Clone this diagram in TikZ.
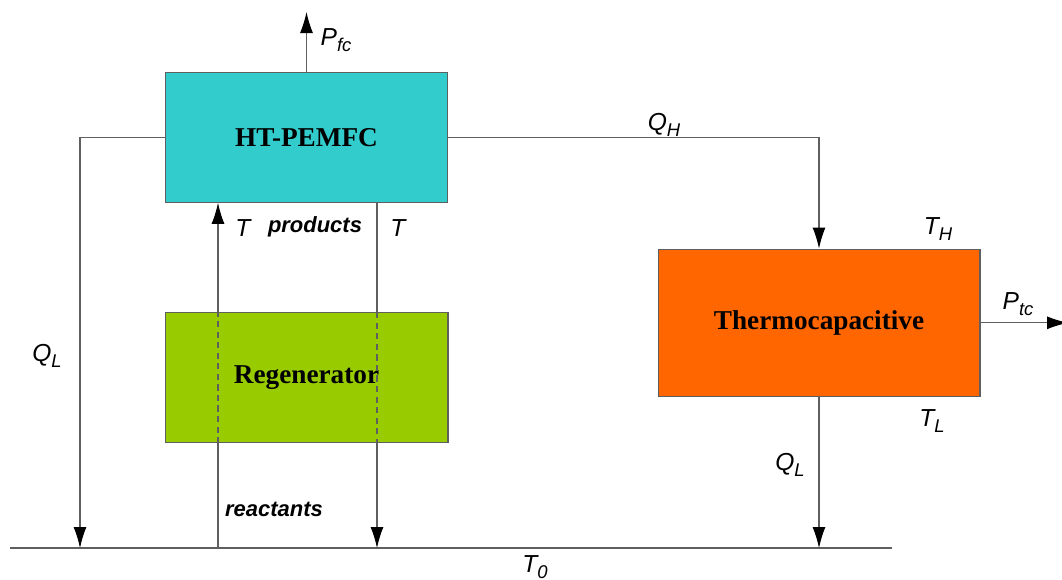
\documentclass[tikz,border=0pt]{standalone}
\usepackage{fontspec}
\setmainfont{Liberation Serif}
\setsansfont{Liberation Sans}
\usepackage{tikz}
\usetikzlibrary{arrows.meta,calc,positioning}
\definecolor{fccyan}{RGB}{51,204,204}
\definecolor{rggreen}{RGB}{153,204,0}
\definecolor{tcorange}{RGB}{255,102,0}
\definecolor{linegray}{RGB}{95,95,95}
\newcommand{\varlab}[2]{#1\raisebox{-0.45ex}{\fontsize{10.5}{11}\selectfont#2}}
\tikzset{>={Latex[length=4.2mm,width=2.6mm,color=black]}}
\tikzset{flow/.style={draw=linegray, line width=0.6pt}}
\tikzset{unit/.style={draw=linegray, line width=0.6pt, inner sep=0pt,
    font=\bfseries\fontsize{15.5}{18}\selectfont}}
\tikzset{lab/.style={inner sep=0pt, font=\sffamily\itshape\fontsize{14}{16}\selectfont}}
\tikzset{tag/.style={inner sep=0pt, font=\sffamily\bfseries\itshape\fontsize{12.5}{14}\selectfont}}
\begin{document}
\begin{tikzpicture}[x=0.02cm, y=-0.02cm]
  \useasboundingbox (0,0) rectangle (1062,579);
  % the three units
  \node[unit, fill=fccyan, minimum width=5.65cm, minimum height=2.6cm] (fc) at (306.5,137.3) {HT-PEMFC};
  \node[unit, fill=rggreen, minimum width=5.66cm, minimum height=2.6cm] (rg) at (306.5,377.7) {Regenerator};
  \node[unit, fill=tcorange, minimum width=6.44cm, minimum height=2.95cm] (tc) at (819,322.8) {Thermocapacitive};
  % environment at T0
  \coordinate (amb west) at (10,548);
  \coordinate (amb east) at (892,548);
  \draw[flow] (amb west) -- (amb east);
  \coordinate (pfc) at (306.5,12);
  \coordinate (ptc) at (1068,322.8);
  \coordinate (qlow) at (80,548);
  \coordinate (rin) at (218,548);
  \coordinate (pout) at (377,548);
  % heat and power flows
  \draw[flow,->] (fc.north) -- (pfc);
  \draw[flow,->] (fc.west) -| (qlow);
  \draw[flow,->] (fc.east) -| (tc.north);
  \draw[flow,->] (tc.east) -- (ptc);
  \draw[flow,->] (tc.south) -- (tc.south |- amb east);
  % reactants up, products down through the regenerator
  \draw[flow] (rin) -- (rin |- rg.south);
  \draw[flow,dash pattern=on 3.5pt off 2.5pt] (rin |- rg.south) -- (rin |- rg.north);
  \draw[flow,->] (rin |- rg.north) -- (rin |- fc.south);
  \draw[flow] (pout |- fc.south) -- (pout |- rg.north);
  \draw[flow,dash pattern=on 3.5pt off 2.5pt] (pout |- rg.north) -- (pout |- rg.south);
  \draw[flow,->] (pout |- rg.south) -- (pout);
  % labels
  \node[lab] (pfc lab) at (336,40) {\varlab{P}{fc}};
  \node[lab] (qh lab) at (664,125) {\varlab{Q}{H}};
  \node[lab] (ql lab) at (47,356) {\varlab{Q}{L}};
  \node[lab] (t in) at (243,228) {T};
  \node[lab] (t out) at (398,228) {T};
  \node[tag] (prod) at (315,227) {products};
  \node[tag] (reac) at (274,509) {reactants};
  \node[lab] (th lab) at (938,229) {\varlab{T}{H}};
  \node[lab] (tl lab) at (932,421) {\varlab{T}{L}};
  \node[lab] (ptc lab) at (1018,304) {\varlab{P}{tc}};
  \node[lab] (qt lab) at (790,465) {\varlab{Q}{L}};
  \node[lab] (t0 lab) at (535,567) {\varlab{T}{0}};
\end{tikzpicture}
\end{document}
